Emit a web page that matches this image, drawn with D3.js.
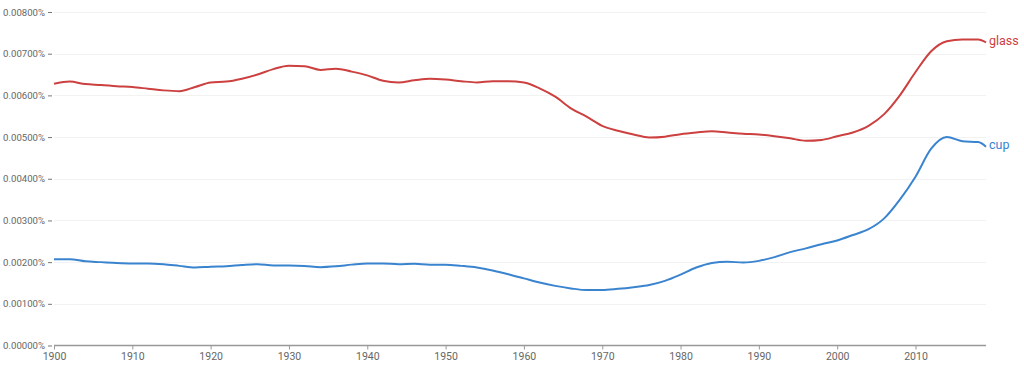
<!DOCTYPE html>
<html>
<head>
<meta charset="utf-8">
<script src="https://cdnjs.cloudflare.com/ajax/libs/d3/7.8.5/d3.min.js"></script>
<style>
  body { margin: 0; background: #fff; }
  text { font-family: Roboto, "Noto Sans", sans-serif; }
</style>
</head>
<body>
<div id="chart"></div>
<script>
// years (every 2 years, plus the last one)
var years = [1900,1902,1904,1906,1908,1910,1912,1914,1916,1918,
             1920,1922,1924,1926,1928,1930,1932,1934,1936,1938,
             1940,1942,1944,1946,1948,1950,1952,1954,1956,1958,
             1960,1962,1964,1966,1968,1970,1972,1974,1976,1978,
             1980,1982,1984,1986,1988,1990,1992,1994,1996,1998,
             2000,2002,2004,2006,2008,2010,2012,2014,2016,2018,2019];

// values in percent
var glass = [0.00628,0.00633,0.00627,0.00625,0.00622,0.00620,0.00616,0.00612,0.00610,0.00620,
             0.00631,0.00633,0.00640,0.00650,0.00663,0.00671,0.00670,0.00661,0.00664,0.00657,
             0.00648,0.00635,0.00631,0.00636,0.00640,0.00638,0.00634,0.00631,0.00634,0.00634,
             0.00631,0.00617,0.00597,0.00569,0.00549,0.00527,0.00515,0.00506,0.00499,0.00501,
             0.00507,0.00511,0.00514,0.00511,0.00508,0.00506,0.00502,0.00497,0.00491,0.00493,
             0.00502,0.00511,0.00527,0.00555,0.00600,0.00656,0.00706,0.00730,0.00734,0.00734,0.00727];

var cup = [0.00207,0.00207,0.00202,0.00200,0.00198,0.00197,0.00197,0.00195,0.00191,0.00187,
           0.00189,0.00190,0.00193,0.00195,0.00192,0.00192,0.00191,0.00188,0.00190,0.00194,
           0.00197,0.00197,0.00195,0.00196,0.00194,0.00194,0.00191,0.00187,0.00180,0.00171,
           0.00161,0.00151,0.00143,0.00137,0.00133,0.00133,0.00136,0.00140,0.00145,0.00155,
           0.00170,0.00187,0.00198,0.00201,0.00199,0.00203,0.00212,0.00224,0.00233,0.00243,
           0.00252,0.00265,0.00279,0.00305,0.00350,0.00405,0.00472,0.00500,0.00490,0.00488,0.00477];

var yTicks = [0,0.001,0.002,0.003,0.004,0.005,0.006,0.007,0.008];
var xTicks = [1900,1910,1920,1930,1940,1950,1960,1970,1980,1990,2000,2010];

var width = 1024, height = 366;
var margin = {top: 12, right: 38, bottom: 20.5, left: 54};

var svg = d3.select("#chart").append("svg")
    .attr("width", width)
    .attr("height", height);

var x = d3.scaleLinear()
    .domain([1900, 2019])
    .range([margin.left, width - margin.right]);

var y = d3.scaleLinear()
    .domain([0, 0.008])
    .range([height - margin.bottom, margin.top]);

// faint grid
svg.append("g")
    .selectAll("line")
    .data(yTicks.slice(1))
    .enter().append("line")
    .attr("x1", x(1900))
    .attr("x2", x(2019))
    .attr("y1", function(d) { return Math.round(y(d)) + 0.5; })
    .attr("y2", function(d) { return Math.round(y(d)) + 0.5; })
    .attr("stroke", "#f2f2f2")
    .attr("stroke-width", 1);

// y labels with a little dash
var yAxis = d3.axisLeft(y)
    .tickValues(yTicks)
    .tickSize(0)
    .tickPadding(9)
    .tickFormat(function(d) { return d3.format(".5f")(d) + "%"; });

var yg = svg.append("g")
    .attr("transform", "translate(" + margin.left + ",0)")
    .call(yAxis);
yg.select(".domain").remove();
yg.selectAll(".tick").append("line")
    .attr("x1", -6).attr("x2", -2)
    .attr("stroke", "#777");
yg.selectAll("text")
    .attr("fill", "#666")
    .style("font-size", "9.6px");

// x axis
var xAxis = d3.axisBottom(x)
    .tickValues(xTicks)
    .tickSize(4)
    .tickPadding(3)
    .tickFormat(d3.format("d"));

var xg = svg.append("g")
    .attr("transform", "translate(0," + y(0) + ")")
    .call(xAxis);
xg.select(".domain")
    .attr("stroke", "#999")
    .attr("stroke-width", 1.5)
    .attr("d", "M" + x(1900) + ",0H" + x(2019));
xg.selectAll(".tick line").attr("stroke", "#999");
xg.selectAll("text")
    .attr("fill", "#666")
    .style("font-size", "10.5px");

var line = d3.line()
    .x(function(d, i) { return x(years[i]); })
    .y(function(d) { return y(d); })
    .curve(d3.curveMonotoneX);

var series = [
  {name: "glass", values: glass, color: "#cc4040"},
  {name: "cup", values: cup, color: "#3a84cf"}
];

svg.selectAll(".series")
    .data(series)
    .enter().append("path")
    .attr("class", "series")
    .attr("d", function(d) { return line(d.values); })
    .attr("fill", "none")
    .attr("stroke", function(d) { return d.color; })
    .attr("stroke-width", 2);

svg.selectAll(".lab")
    .data(series)
    .enter().append("text")
    .attr("class", "lab")
    .attr("x", x(2019) + 3)
    .attr("y", function(d) { return y(d.values[d.values.length - 1]) - 2; })
    .attr("dy", "0.35em")
    .attr("fill", function(d) { return d.color; })
    .style("font-size", "12.5px")
    .text(function(d) { return d.name; });
</script>
</body>
</html>
